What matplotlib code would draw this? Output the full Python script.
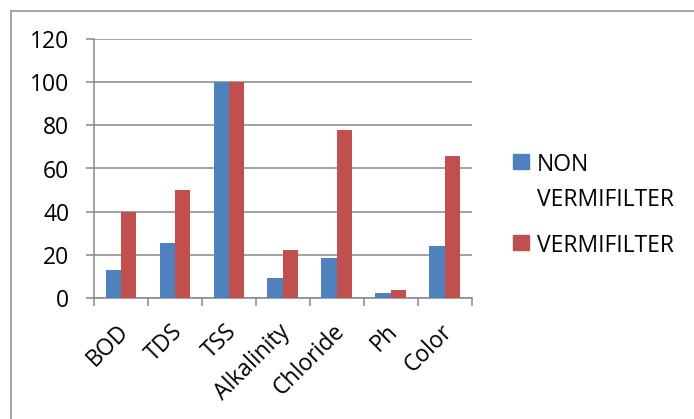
import numpy as np
import matplotlib.pyplot as plt
import matplotlib.transforms as mtransforms
from matplotlib.patches import Rectangle
from matplotlib.lines import Line2D

plt.rcParams['font.family'] = ['Open Sans', 'DejaVu Sans']

# Data
categories = ['BOD', 'TDS', 'TSS', 'Alkalinity', 'Chloride', 'Ph', 'Color']
non_vermi = [13, 25.3, 100, 9.3, 18.6, 2.3, 24]
vermi = [39.6, 50, 100, 22.2, 78, 3.7, 66]
series_names = ['NON\nVERMIFILTER', 'VERMIFILTER']

blue = '#4F81BD'
red = '#C0504D'
gray = '#888888'
fs = 16.5

W, H = 694, 419
fig = plt.figure(figsize=(W/100, H/100), dpi=100)
ax = fig.add_axes([94/W, 1 - 297.7/H, (471.7-94)/W, (297.7-39.3)/H])

x = np.arange(len(categories))
w = 0.285
b1 = ax.bar(x - w/2, non_vermi, w, color=blue, zorder=3)
b2 = ax.bar(x + w/2, vermi, w, color=red, zorder=3)

ax.set_xlim(-0.5, len(categories) - 0.5)
ax.set_ylim(0, 120)
ax.set_yticks(np.arange(0, 121, 20))
ax.yaxis.grid(True, color=gray, linewidth=1.1, zorder=0)
ax.set_axisbelow(True)

for s in ['top', 'right']:
    ax.spines[s].set_visible(False)
for s in ['left', 'bottom']:
    ax.spines[s].set_color(gray)
    ax.spines[s].set_linewidth(1.1)

ax.tick_params(axis='y', direction='out', length=5.8, width=1.1, color=gray,
               labelsize=fs, pad=12)
# x ticks at category boundaries, labels at centers
ax.set_xticks(np.arange(-0.5, len(categories)))
ax.set_xticklabels([])
ax.tick_params(axis='x', which='major', direction='out', length=5.8, width=1.1, color=gray)
ax.set_xticks(x, minor=True)
ax.set_xticklabels(categories, minor=True, rotation=45, ha='right',
                   va='top', rotation_mode='anchor', fontsize=fs)
ax.tick_params(axis='x', which='minor', length=0, pad=16)
offset = mtransforms.ScaledTranslation(-3.3/72, 0, fig.dpi_scale_trans)
for lab in ax.get_xticklabels(minor=True):
    lab.set_transform(lab.get_transform() + offset)

# legend, placed like the original
colors = [blue, red]
patch_tops = [154, 235]
for name, c, top in zip(series_names, colors, patch_tops):
    fig.add_artist(Rectangle((513/W, 1 - (top + 15)/H), 16/W, 15/H,
                             color=c, transform=fig.transFigure))
    fig.text(537/W, 1 - (top + 8)/H, name, fontsize=fs, va='top',
             ha='left', linespacing=1.65,
             transform=fig.transFigure + mtransforms.ScaledTranslation(0, 6.7/72, fig.dpi_scale_trans))

# outer border of the chart area
bc = '#A6A6A6'
fig.add_artist(Line2D([11/W, 11/W], [0, 1 - 11/H], color=bc, lw=1.5,
                      transform=fig.transFigure))
fig.add_artist(Line2D([11/W, 1], [1 - 11/H, 1 - 11/H], color=bc, lw=1.5,
                      transform=fig.transFigure))

fig.savefig('out.png', dpi=100, facecolor='w')
